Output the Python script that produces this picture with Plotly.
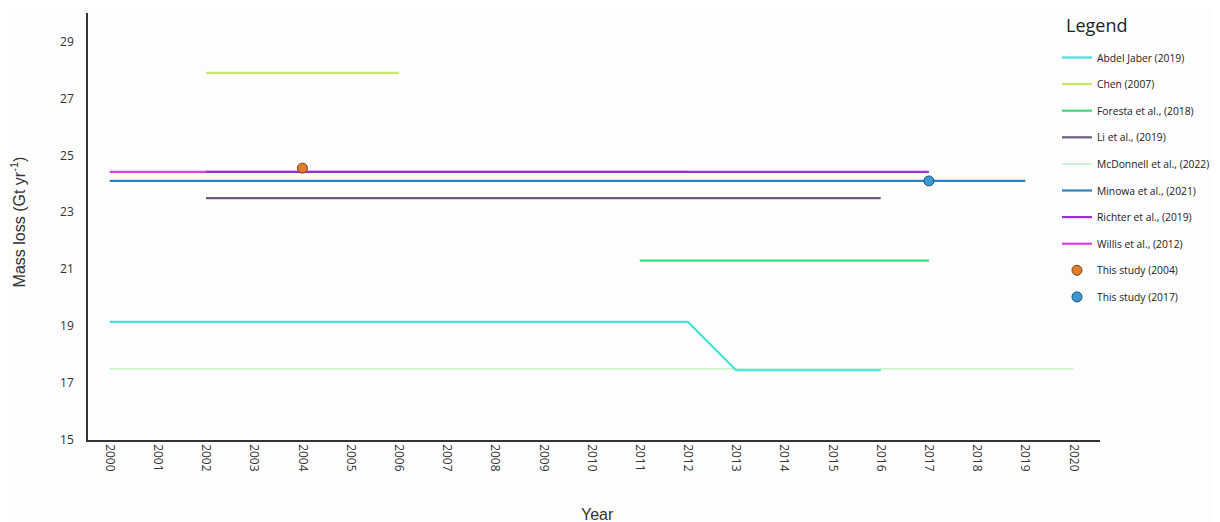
import plotly.graph_objects as go

# ---- data ----
years = list(range(2000, 2021))

abdel_x = [2000, 2012, 2013, 2016]
abdel_y = [19.15, 19.15, 17.45, 17.45]

chen_x = [2002, 2006]
chen_y = [27.9, 27.9]

foresta_x = [2011, 2017]
foresta_y = [21.3, 21.3]

li_x = [2002, 2016]
li_y = [23.5, 23.5]

mcdonnell_x = [2000, 2020]
mcdonnell_y = [17.5, 17.5]

minowa_x = [2000, 2019]
minowa_y = [24.1, 24.1]

richter_x = [2002, 2017]
richter_y = [24.42, 24.42]

willis_x = [2000, 2012]
willis_y = [24.42, 24.42]

study2004_x = [2004]
study2004_y = [24.55]

study2017_x = [2017]
study2017_y = [24.1]

y_ticks = [15, 17, 19, 21, 23, 25, 27, 29]

# page body has an 8px default margin; size the figure to fill the rest
W, H = 1212, 514

# ---- figure ----
fig = go.Figure()

def line(name, x, y, color, rank, width=2.2):
    fig.add_trace(go.Scatter(x=x, y=y, mode="lines", name=name,
                             line=dict(color=color, width=width),
                             legendrank=rank, legendgroup=name))

line("McDonnell et al., (2022)", mcdonnell_x, mcdonnell_y, "#c9f3c9", 5, 1.8)
line("Abdel Jaber (2019)", abdel_x, abdel_y, "#45e3d9", 1)
line("Chen (2007)", chen_x, chen_y, "#c8e86a", 2)
line("Foresta et al., (2018)", foresta_x, foresta_y, "#3ddc7a", 3)
line("Li et al., (2019)", li_x, li_y, "#6e5c7e", 4)
line("Minowa et al., (2021)", minowa_x, minowa_y, "#2e82c2", 6)
line("Willis et al., (2012)", willis_x, willis_y, "#e040e0", 8)
line("Richter et al., (2019)", richter_x, richter_y, "#9b33d3", 7)

fig.add_trace(go.Scatter(x=study2004_x, y=study2004_y, mode="markers",
                         name="This study (2004)", legendrank=9, legendgroup="s04",
                         marker=dict(color="#e07d2c", size=10,
                                     line=dict(color="#7a3d12", width=1))))
fig.add_trace(go.Scatter(x=study2017_x, y=study2017_y, mode="markers",
                         name="This study (2017)", legendrank=10, legendgroup="s17",
                         marker=dict(color="#3a98d3", size=10,
                                     line=dict(color="#1e4f78", width=1))))

fig.update_layout(
    width=W, height=H,
    margin=dict(l=80, r=120, t=5, b=82, autoexpand=False),
    paper_bgcolor="#fdfdfd", plot_bgcolor="#fdfdfd",
    font=dict(family="Open Sans", size=12, color="#333333"),
    showlegend=True,
    legend=dict(
        xref="container", yref="container",
        x=1049 / W, y=1 - 35 / H, xanchor="left", yanchor="top",
        bgcolor="rgba(0,0,0,0)",
        font=dict(family="Open Sans", size=10.3, color="#222222"),
        tracegroupgap=7.6,
        traceorder="grouped",
        maxheight=460,
    ),
    xaxis=dict(
        range=[1999.55, 2020.55], automargin=False,
        tickmode="array", tickvals=years, ticktext=[str(y) for y in years],
        tickangle=90,
        showgrid=False, zeroline=False,
        showline=True, linecolor="#333333", linewidth=1.5,
        ticks="", tickfont=dict(family="Open Sans", size=12, color="#333333"),
    ),
    yaxis=dict(
        range=[15, 30], automargin=False,
        tickmode="array", tickvals=y_ticks,
        showgrid=False, zeroline=False,
        showline=True, linecolor="#333333", linewidth=1.5,
        ticks="", ticklabelstandoff=10,
        tickfont=dict(family="Open Sans", size=12, color="#333333"),
    ),
    annotations=[
        dict(text="Legend", xref="paper", yref="paper",
             x=(1064 - 88) / 1012, y=(440 - 25) / 427,
             xanchor="left", yanchor="middle", showarrow=False,
             font=dict(family="Open Sans", size=18, color="#222222")),
        dict(text="Year", xref="paper", yref="paper", x=0.503, y=-0.1756,
             xanchor="center", yanchor="middle", showarrow=False,
             font=dict(family="Liberation Sans, Arial", size=16, color="#333333")),
        dict(text="Mass loss (Gt yr<sup>-1</sup>)", xref="paper", yref="paper",
             x=-0.069, y=0.51, textangle=-90,
             xanchor="center", yanchor="middle", showarrow=False,
             font=dict(family="Liberation Sans, Arial", size=16, color="#333333")),
    ],
)

fig.write_html("out.html")
